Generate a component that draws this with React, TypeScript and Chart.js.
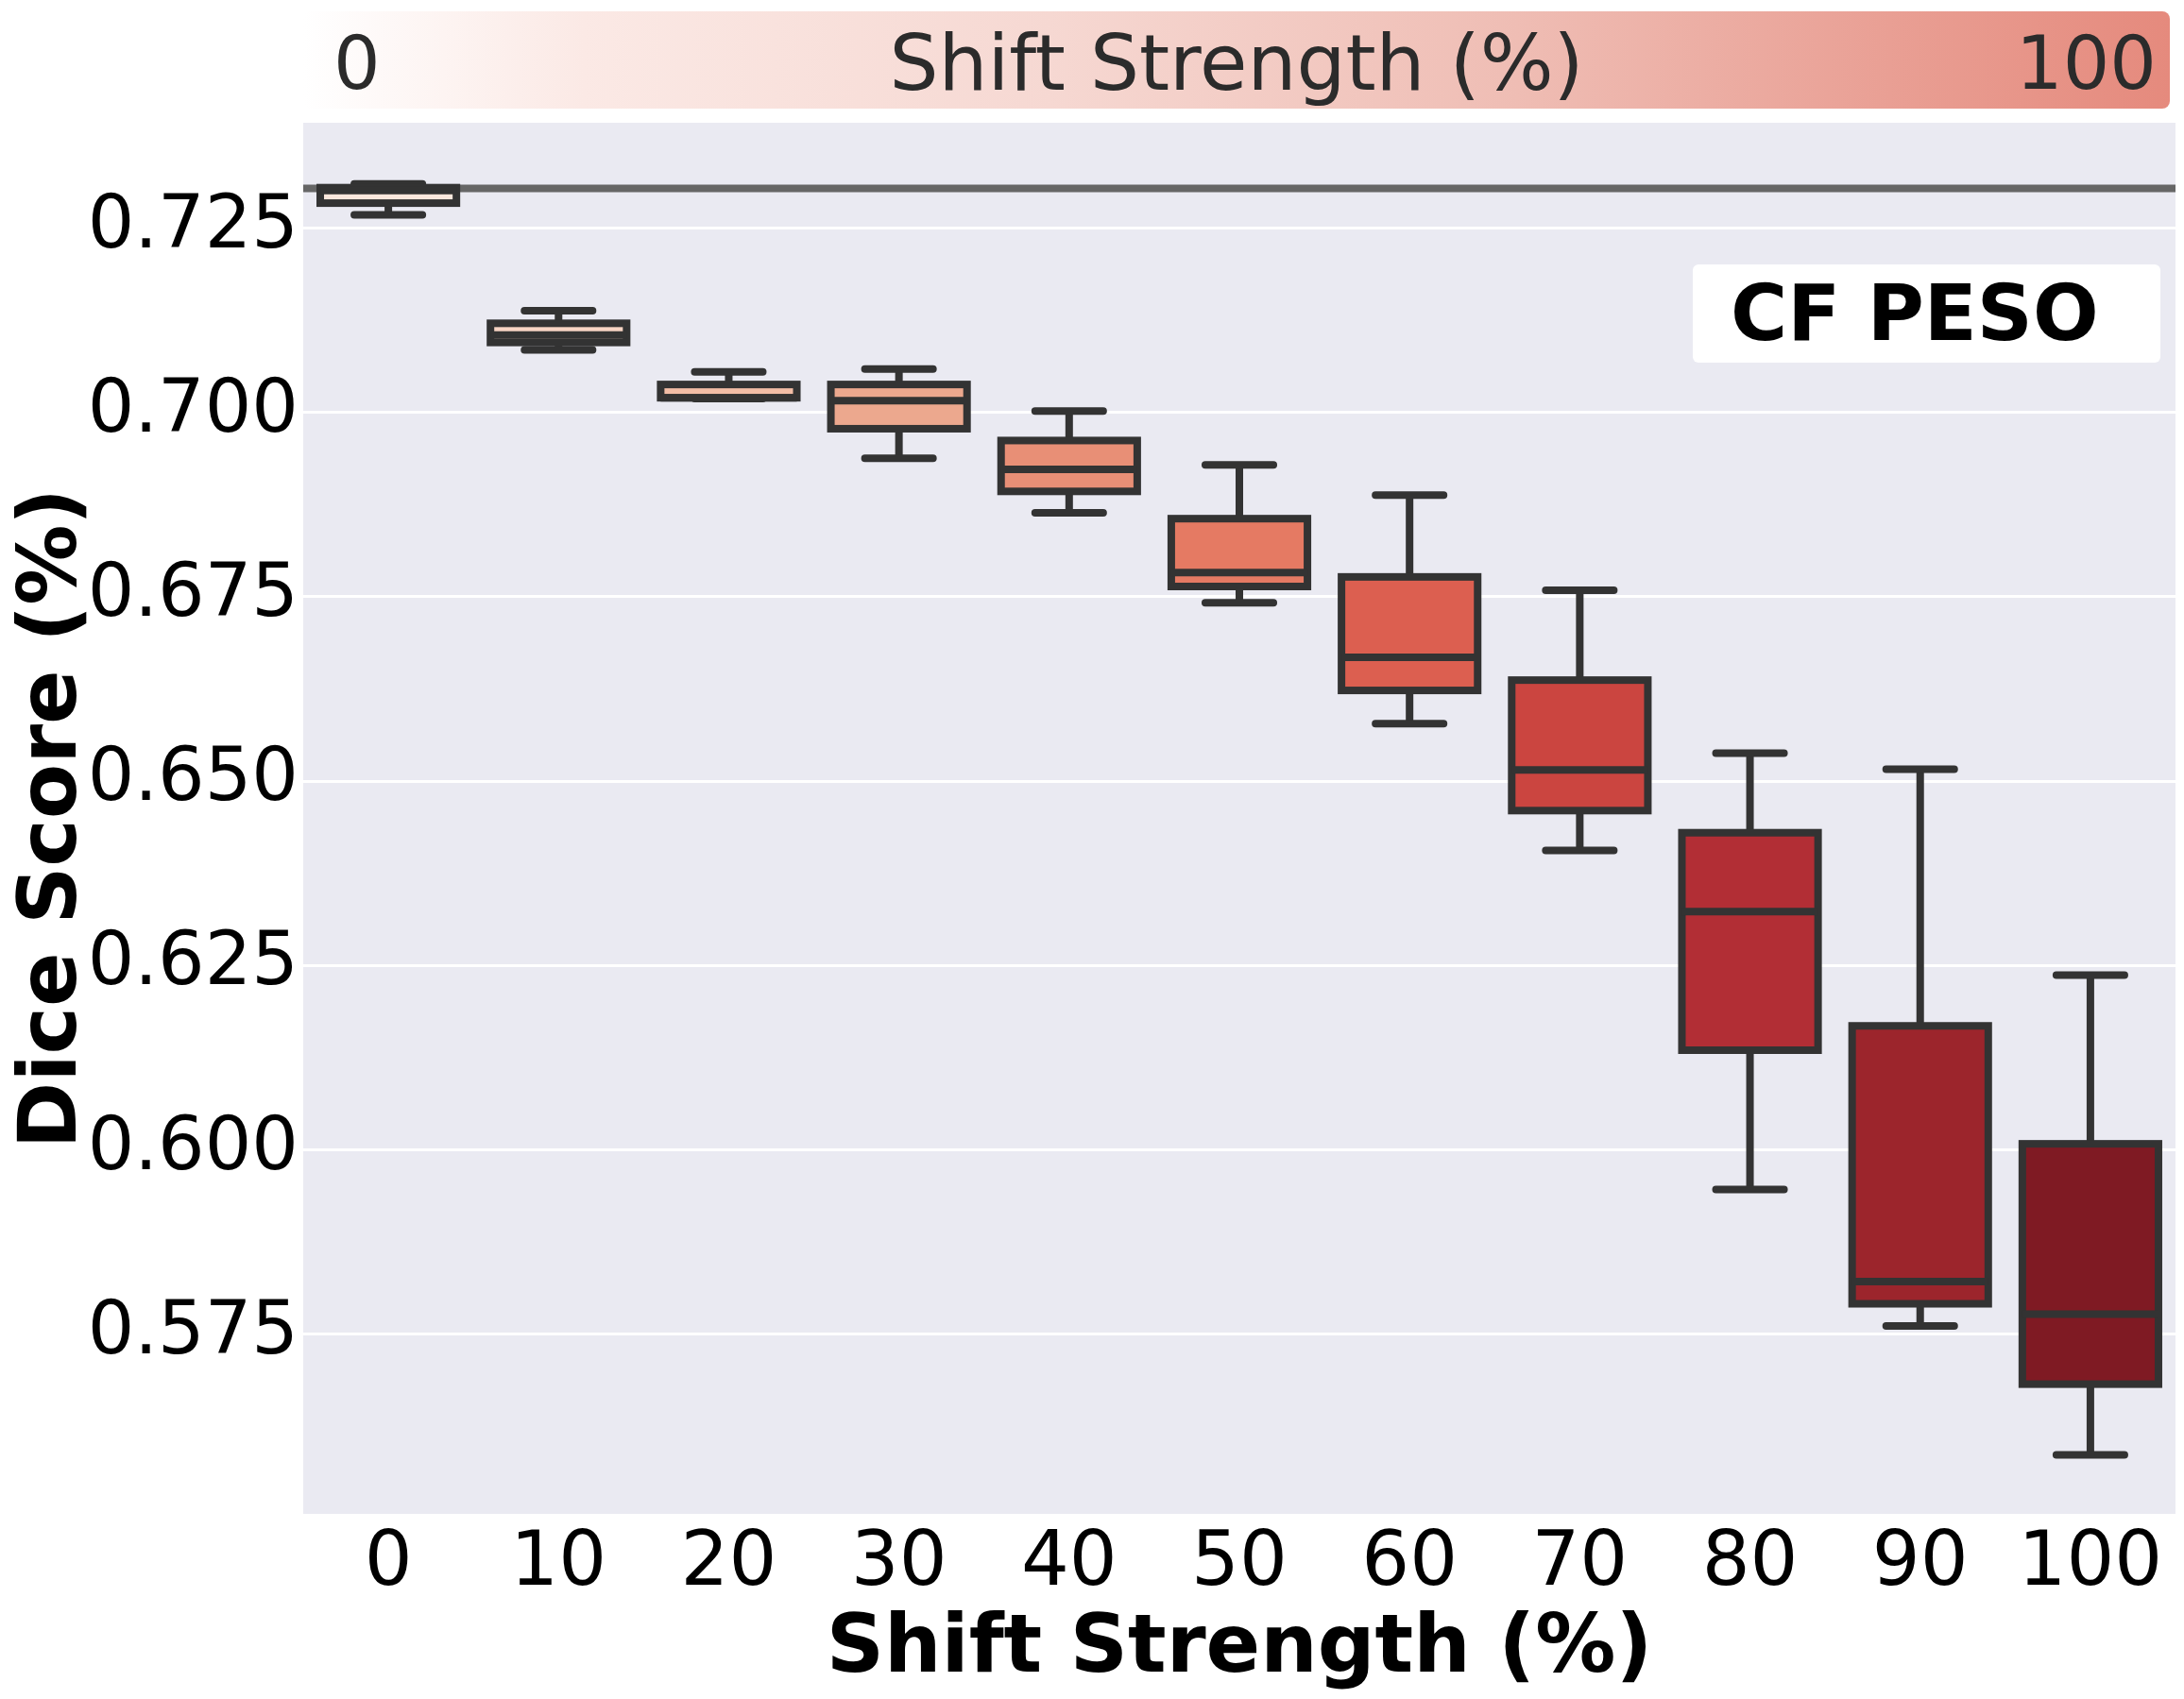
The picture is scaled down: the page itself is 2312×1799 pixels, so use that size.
import React, { useRef, useEffect } from "react";
import Chart from "chart.js/auto";

// Dice scores per shift strength (box plot summary)
const categories = ["0", "10", "20", "30", "40", "50", "60", "70", "80", "90", "100"];
const whiskerLow = [0.7268, 0.7085, 0.7019, 0.6938, 0.6864, 0.6742, 0.6578, 0.6406, 0.5946, 0.5761, 0.5586];
const q1 = [0.7284, 0.7095, 0.702, 0.6978, 0.6893, 0.6764, 0.6623, 0.646, 0.6135, 0.5791, 0.5682];
const median = [0.7301, 0.7105, 0.702, 0.7016, 0.6923, 0.6783, 0.6668, 0.6515, 0.6323, 0.5821, 0.5777];
const q3 = [0.7305, 0.7121, 0.7038, 0.7038, 0.6962, 0.6856, 0.6777, 0.6637, 0.643, 0.6168, 0.6008];
const whiskerHigh = [0.731, 0.7138, 0.7055, 0.7059, 0.7002, 0.6929, 0.6888, 0.6759, 0.6538, 0.6516, 0.6237];
const baselineScore = 0.7304;

const yTicks = [0.575, 0.6, 0.625, 0.65, 0.675, 0.7, 0.725];
const yMin = 0.5506;
const yMax = 0.7393;

const boxColors = [
  "#fbe7dc", "#f7d4c4", "#f2bda6", "#eca88e", "#e88f76", "#e57a63",
  "#dc5f50", "#cb4540", "#b22e35", "#9c252c", "#7f1a23",
];

const LINE = "#333333";
const LW = 8;

const boxPlugin = {
  id: "boxDecor",
  beforeDraw(chart: any) {
    const { ctx, chartArea } = chart;
    ctx.save();
    ctx.fillStyle = "#eaeaf2";
    ctx.fillRect(chartArea.left, chartArea.top, chartArea.right - chartArea.left, chartArea.bottom - chartArea.top);
    ctx.restore();
  },
  beforeDatasetsDraw(chart: any) {
    const { ctx, chartArea } = chart;
    const y = chart.scales.y;
    const meta = chart.getDatasetMeta(0);
    ctx.save();
    // reference line
    ctx.strokeStyle = "#666666";
    ctx.lineWidth = LW;
    ctx.beginPath();
    const yb = y.getPixelForValue(baselineScore);
    ctx.moveTo(chartArea.left, yb);
    ctx.lineTo(chartArea.right, yb);
    ctx.stroke();
    // whiskers and caps
    ctx.strokeStyle = LINE;
    meta.data.forEach((bar: any, i: number) => {
      const xc = bar.x;
      const half = bar.width / 4;
      const yHi = y.getPixelForValue(whiskerHigh[i]);
      const yLo = y.getPixelForValue(whiskerLow[i]);
      ctx.lineCap = "butt";
      ctx.beginPath();
      ctx.moveTo(xc, y.getPixelForValue(q3[i]));
      ctx.lineTo(xc, yHi);
      ctx.moveTo(xc, y.getPixelForValue(q1[i]));
      ctx.lineTo(xc, yLo);
      ctx.stroke();
      ctx.lineCap = "round";
      ctx.beginPath();
      ctx.moveTo(xc - half, yHi);
      ctx.lineTo(xc + half, yHi);
      ctx.moveTo(xc - half, yLo);
      ctx.lineTo(xc + half, yLo);
      ctx.stroke();
    });
    ctx.restore();
  },
  afterDatasetsDraw(chart: any) {
    const { ctx } = chart;
    const y = chart.scales.y;
    const meta = chart.getDatasetMeta(0);
    ctx.save();
    ctx.strokeStyle = LINE;
    ctx.lineWidth = LW;
    ctx.lineJoin = "miter";
    meta.data.forEach((bar: any, i: number) => {
      const left = bar.x - bar.width / 2;
      const top = Math.min(bar.y, bar.base);
      const h = Math.abs(bar.base - bar.y);
      ctx.strokeRect(left, top, bar.width, h);
      const ym = y.getPixelForValue(median[i]);
      ctx.beginPath();
      ctx.moveTo(left, ym);
      ctx.lineTo(left + bar.width, ym);
      ctx.stroke();
    });
    ctx.restore();
  },
};

const DiceBoxChart = () => {
  const canvasRef = useRef<HTMLCanvasElement>(null);

  useEffect(() => {
    const ctx = canvasRef.current?.getContext("2d");
    if (!ctx) return;
    Chart.defaults.font.family = "'DejaVu Sans', sans-serif";
    const chart = new Chart(ctx, {
      type: "bar",
      data: {
        labels: categories,
        datasets: [
          {
            label: "CF PESO",
            data: categories.map((_, i) => [q1[i], q3[i]]) as any,
            backgroundColor: boxColors,
            borderWidth: 0,
            barPercentage: 0.8,
            categoryPercentage: 1,
          },
        ],
      },
      options: {
        responsive: false,
        animation: false,
        devicePixelRatio: 1,
        layout: { padding: { top: 130, right: 9, bottom: 0, left: 0 } },
        plugins: {
          legend: { display: false },
          tooltip: { enabled: false },
        },
        scales: {
          x: {
            grid: { display: false, drawTicks: false },
            border: { display: false },
            ticks: { color: "#000", font: { size: 80 }, padding: 6, maxRotation: 0 },
            title: {
              display: true,
              text: "Shift Strength (%)",
              color: "#000",
              font: { size: 85, weight: "bold" },
              padding: 0,
            },
            afterFit: (scale: any) => {
              scale.height = 196;
            },
          },
          y: {
            min: yMin,
            max: yMax,
            afterBuildTicks: (scale: any) => {
              scale.ticks = yTicks.map((v) => ({ value: v }));
            },
            grid: { color: "#ffffff", lineWidth: 3, drawTicks: false },
            border: { display: false },
            ticks: {
              color: "#000",
              font: { size: 78 },
              padding: 5,
              callback: (v: any) => Number(v).toFixed(3),
            },
            title: {
              display: true,
              text: "Dice Score (%)",
              color: "#000",
              font: { size: 85, weight: "bold" },
              padding: { top: 7, bottom: 0 },
            },
            afterFit: (scale: any) => {
              scale.width = 321;
            },
          },
        },
      },
      plugins: [boxPlugin],
    });

    return () => {
      chart.destroy();
    };
  }, []);

  return <canvas ref={canvasRef} width={2312} height={1799} style={{ position: "absolute", left: 0, top: 0 }} />;
};

const App = () => {
  return (
    <div style={{ position: "absolute", left: 0, top: 0, width: 2312, height: 1799, background: "#ffffff", fontFamily: "'DejaVu Sans', sans-serif" }}>
      <DiceBoxChart />
      <div
        style={{
          position: "absolute",
          left: 321,
          top: 12,
          width: 1976,
          height: 103,
          borderRadius: 8,
          background: "linear-gradient(to right, #ffffff 0%, #fbe9e5 15%, #f6d8d2 40%, #efbdb4 65%, #e99f94 85%, #e58a7d 100%)",
          color: "#2b2b2b",
          lineHeight: "103px",
        }}
      >
        <span style={{ position: "absolute", left: 32, top: 4, fontSize: 78 }}>0</span>
        <span style={{ position: "absolute", left: 0, right: 0, top: 3, textAlign: "center", fontSize: 82 }}>
          Shift Strength (%)
        </span>
        <span style={{ position: "absolute", right: 14, top: 4, fontSize: 78 }}>100</span>
      </div>
      <div
        style={{
          position: "absolute",
          left: 1792,
          top: 280,
          width: 495,
          height: 104,
          borderRadius: 6,
          background: "#ffffff",
          display: "flex",
          alignItems: "center",
          boxSizing: "border-box",
          paddingLeft: 40,
          fontWeight: "bold",
          fontSize: 82,
          lineHeight: 1,
          color: "#000",
        }}
      >
        CF PESO
      </div>
    </div>
  );
};

export default App;
